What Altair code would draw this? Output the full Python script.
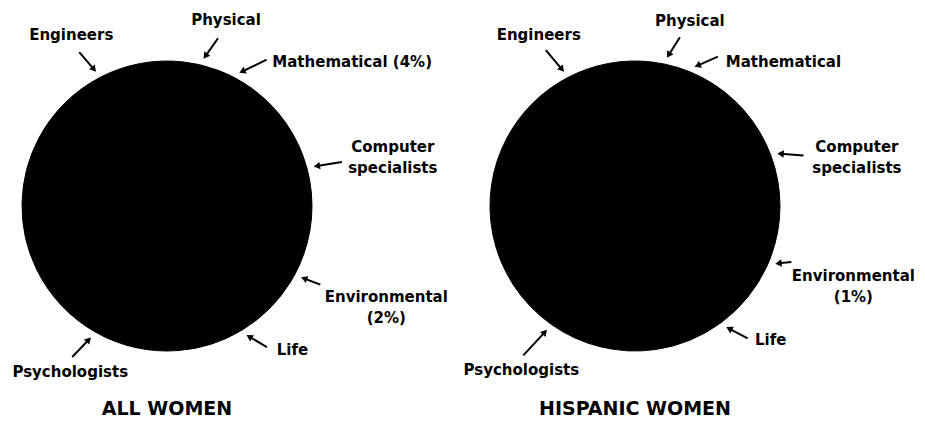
import math
import altair as alt
import pandas as pd

# ---------------- data ----------------
CATEGORIES = ["Physical", "Mathematical", "Computer specialists", "Environmental",
              "Life", "Psychologists", "Other (unlabeled)", "Engineers"]
ALL_WOMEN = [4, 4, 22, 2, 15, 19, 15, 19]          # percent
HISPANIC_WOMEN = [3, 3, 23, 1, 16, 24, 11, 19]     # percent
LABELS_ALL = ["Physical", "Mathematical (4%)", "Computer\nspecialists", "Environmental\n(2%)",
              "Life", "Psychologists", "", "Engineers"]
LABELS_HISP = ["Physical", "Mathematical", "Computer\nspecialists", "Environmental\n(1%)",
               "Life", "Psychologists", "", "Engineers"]
PANEL_TITLES = ["ALL WOMEN", "HISPANIC WOMEN"]

# ---------------- layout ----------------
W, H = 909, 411
R = 145
TIP_R = 150
START_DEG = 6.5
CENTERS = [(159, 198), (627, 198)]
TITLE_Y = 401
# per label: (tail dx, tail dy from arrow tip, label dx, label dy from tail)
ARROW_LAYOUT = [
    {"Engineers": (-18, -21, -8, -17), "Physical": (15.5, -22, 8, -18),
     "Mathematical": (29, -14, 85.5, 2), "Computer specialists": (30, -5, 51, -14.5),
     "Environmental": (21, 8, 66, 12.5), "Life": (22, 13, 25.5, 3),
     "Psychologists": (-20, 21, -2, 15)},
    {"Engineers": (-19.5, -23, -7, -15), "Physical": (14, -22, 10, -16),
     "Mathematical": (25, -11, 65.5, 5), "Computer specialists": (28, 2, 53.4, -8.2),
     "Environmental": (18, -2, 62, 14), "Life": (23, 12, 23, 2),
     "Psychologists": (-25, 27, -2, 15)},
]
HEAD_SIZE = 55
HEAD_APEX = math.sqrt(HEAD_SIZE) / 2 * math.sqrt(3) / 2 * (1 + math.tan(math.radians(30)))

xs = alt.Scale(domain=[0, W], nice=False, zero=False)
ys = alt.Scale(domain=[0, H], nice=False, zero=False, reverse=True)
theta_scale = alt.Scale(range=[math.radians(START_DEG), math.radians(START_DEG) + 2 * math.pi])


def build(values, labels, center, layout):
    cx, cy = center
    df = pd.DataFrame({"cat": CATEGORIES, "value": values, "label": labels})
    df["idx"] = range(len(df))
    total = df["value"].sum()
    end = df["value"].cumsum()
    df["mid"] = START_DEG + (end - df["value"] / 2) / total * 360.0

    rows = []
    for _, r in df.iterrows():
        if not r["label"]:
            continue
        key = next(k for k in layout if r["cat"].startswith(k))
        tdx, tdy, ldx, ldy = layout[key]
        a = math.radians(r["mid"])
        tipx = cx + TIP_R * math.sin(a)
        tipy = cy - TIP_R * math.cos(a)
        tx, ty = tipx + tdx, tipy + tdy
        dx, dy = tipx - tx, tipy - ty
        n = math.hypot(dx, dy)
        ux, uy = dx / n, dy / n
        hx, hy = tipx - HEAD_APEX * ux, tipy - HEAD_APEX * uy
        rot = math.degrees(math.atan2(ux, -uy)) % 360
        rows.append({"label": r["label"], "tx": tx, "ty": ty, "hx": hx, "hy": hy,
                     "rot": rot, "lx": tx + ldx, "ly": ty + ldy})
    ann = pd.DataFrame(rows)

    arc = alt.Chart(df).mark_arc(outerRadius=R, color="black", stroke="black",
                                 strokeWidth=1).encode(
        theta=alt.Theta("value:Q", stack=True, scale=theta_scale),
        order=alt.Order("idx:Q"),
        detail="cat:N",
        x=alt.value(cx), y=alt.value(cy),
    )
    base = alt.Chart(ann)
    rule = base.mark_rule(color="black", strokeWidth=2).encode(
        x=alt.X("tx:Q", scale=xs, axis=None), y=alt.Y("ty:Q", scale=ys, axis=None),
        x2="hx:Q", y2="hy:Q")
    head = base.mark_point(shape="triangle-up", filled=True, color="black", opacity=1,
                           size=HEAD_SIZE, strokeWidth=0).encode(
        x=alt.X("hx:Q", scale=xs, axis=None), y=alt.Y("hy:Q", scale=ys, axis=None),
        angle=alt.Angle("rot:Q", scale=None))
    text = base.mark_text(font="DejaVu Sans", fontWeight="bold", fontSize=15,
                          lineBreak="\n", lineHeight=21, align="center",
                          baseline="middle", color="black").encode(
        x=alt.X("lx:Q", scale=xs, axis=None), y=alt.Y("ly:Q", scale=ys, axis=None),
        text="label:N")
    return [arc, rule, head, text]


layers = []
layers += build(ALL_WOMEN, LABELS_ALL, CENTERS[0], ARROW_LAYOUT[0])
layers += build(HISPANIC_WOMEN, LABELS_HISP, CENTERS[1], ARROW_LAYOUT[1])

titles = pd.DataFrame({"title": PANEL_TITLES,
                       "x": [c[0] for c in CENTERS], "y": [TITLE_Y, TITLE_Y]})
layers.append(alt.Chart(titles).mark_text(font="DejaVu Sans", fontWeight="bold", fontSize=19,
                                          align="center", baseline="middle",
                                          color="black").encode(
    x=alt.X("x:Q", scale=xs, axis=None), y=alt.Y("y:Q", scale=ys, axis=None),
    text="title:N"))

chart = alt.layer(*layers).properties(
    width=W, height=H, padding=0, background="white",
    autosize=alt.AutoSizeParams(type="none"),
).configure_view(stroke=None)

chart.save("out.html", embed_options={"renderer": "svg", "actions": False})
